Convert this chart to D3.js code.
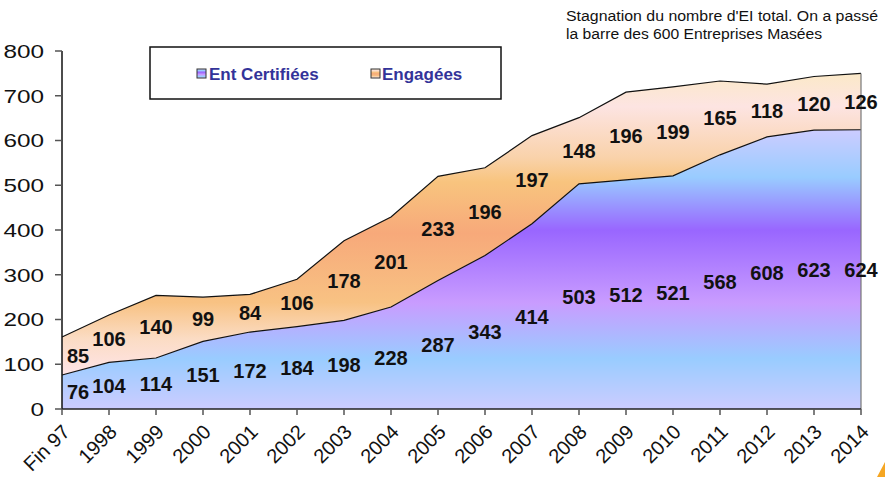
<!DOCTYPE html>
<html>
<head>
<meta charset="utf-8">
<script src="https://cdn.jsdelivr.net/npm/d3@7/dist/d3.min.js"></script>
<style>
  html, body { margin: 0; padding: 0; background: #fff; }
  svg { display: block; font-family: "Liberation Sans", Arial, sans-serif; }
</style>
</head>
<body>
<svg id="chart" width="885" height="477"></svg>
<script>
const categories = ["Fin 97","1998","1999","2000","2001","2002","2003","2004","2005","2006","2007","2008","2009","2010","2011","2012","2013","2014"];
const certifiees = [76,104,114,151,172,184,198,228,287,343,414,503,512,521,568,608,623,624];
const engagees   = [85,106,140,99,84,106,178,201,233,196,197,148,196,199,165,118,120,126];
const yTicks = [0,100,200,300,400,500,600,700,800];
const seriesNames = ["Ent Certifiées","Engagées"];
const noteLines = ["Stagnation du nombre d'EI total. On a passé","la barre des 600 Entreprises Masées"];

const svg = d3.select("#chart");
const x = d3.scalePoint().domain(categories).range([62, 861]);
const y = d3.scaleLinear().domain([0, 800]).range([409, 51]);
const AX = 1.28; // horizontal stretch of y-axis texts in the reference

const defs = svg.append("defs");
function grad(id, stops) {
  const g = defs.append("linearGradient").attr("id", id)
    .attr("x1", 0).attr("y1", 0).attr("x2", 0).attr("y2", 1);
  stops.forEach(([o, c]) => g.append("stop").attr("offset", o).attr("stop-color", c));
}
grad("gBlue", [[0,"#ccccff"],[0.17,"#99ccff"],[0.36,"#9966ff"],[0.62,"#c99cff"],[0.82,"#99ccff"],[1,"#ccccff"]]);
grad("gOrange", [[0,"#fbe9c8"],[0.11,"#fde4e2"],[0.28,"#f9d2aa"],[0.36,"#f8c47e"],[0.53,"#f7a97a"],[0.76,"#f8c283"],[0.88,"#fbdcc4"],[1,"#ffe4e8"]]);

const data = categories.map((c, i) => ({ cat: c, cert: certifiees[i], eng: engagees[i] }));
const stack = d3.stack().keys(["cert", "eng"])(data);

const area = d3.area()
  .x(d => x(d.data.cat))
  .y0(d => y(d[0]))
  .y1(d => y(d[1]));
const topLine = d3.line().x(d => x(d.data.cat)).y(d => y(d[1]));

svg.append("path").datum(stack[0]).attr("d", area).attr("fill", "url(#gBlue)");
svg.append("path").datum(stack[1]).attr("d", area).attr("fill", "url(#gOrange)");
svg.append("path").datum(stack[0]).attr("d", topLine).attr("fill", "none").attr("stroke", "#111").attr("stroke-width", 1.2);
svg.append("path").datum(stack[1]).attr("d", topLine).attr("fill", "none").attr("stroke", "#111").attr("stroke-width", 1.2);
const last = categories.length - 1;
svg.append("line")
  .attr("x1", x(categories[last])).attr("x2", x(categories[last]))
  .attr("y1", y(stack[1][last][1])).attr("y2", y(0))
  .attr("stroke", "#777").attr("stroke-width", 1.2);

// axes
const yAxis = svg.append("g");
yAxis.append("line").attr("x1", 62).attr("x2", 62).attr("y1", y(800)).attr("y2", y(0)).attr("stroke", "#111").attr("stroke-width", 1.5);
yTicks.forEach(t => {
  yAxis.append("line").attr("x1", 55).attr("x2", 62).attr("y1", y(t)).attr("y2", y(t)).attr("stroke", "#555").attr("stroke-width", 1.5);
  yAxis.append("text")
    .attr("transform", `translate(44,${y(t)}) scale(${AX},1)`)
    .attr("text-anchor", "end").attr("dy", "0.36em")
    .attr("font-size", 19).attr("fill", "#111").text(t);
});

const xAxis = svg.append("g");
xAxis.append("line").attr("x1", 62).attr("x2", 861).attr("y1", y(0)).attr("y2", y(0)).attr("stroke", "#222").attr("stroke-width", 1.5);
categories.forEach(c => {
  xAxis.append("line").attr("x1", x(c)).attr("x2", x(c)).attr("y1", y(0)).attr("y2", y(0) + 6).attr("stroke", "#555").attr("stroke-width", 1.5);
  xAxis.append("text")
    .attr("transform", `translate(${x(c) + 4},${y(0) + 19}) rotate(-45)`)
    .attr("text-anchor", "end").attr("dy", "0.36em")
    .attr("font-size", 20).attr("fill", "#111").text(c);
});

// data labels
const labels = svg.append("g").attr("font-size", 20).attr("font-weight", "bold").attr("fill", "#111").attr("text-anchor", "middle");
stack.forEach(s => {
  s.forEach((d, i) => {
    const lx = x(d.data.cat) + (i === 0 ? 16 : 0);
    labels.append("text")
      .attr("x", lx).attr("y", y((d[0] + d[1]) / 2)).attr("dy", "0.36em")
      .text(d[1] - d[0]);
  });
});

// legend
const lg = svg.append("g");
lg.append("rect").attr("x", 150).attr("y", 47).attr("width", 351).attr("height", 52)
  .attr("fill", "#fff").attr("stroke", "#111").attr("stroke-width", 1.5);
const legendItems = [
  { name: seriesNames[0], fill: "url(#gBlue)", sx: 197, tx: 209 },
  { name: seriesNames[1], fill: "url(#gOrange)", sx: 371, tx: 382 }
];
legendItems.forEach(it => {
  lg.append("rect").attr("x", it.sx).attr("y", 69).attr("width", 9).attr("height", 9)
    .attr("fill", it.fill).attr("stroke", "#333").attr("stroke-width", 1);
  lg.append("text").attr("x", it.tx).attr("y", 80)
    .attr("font-size", 17).attr("font-weight", "bold").attr("fill", "#333399").text(it.name);
});

// note text
svg.append("text").attr("x", 566).attr("y", 21).attr("font-size", 14).attr("fill", "#111")
  .attr("textLength", 312).attr("lengthAdjust", "spacingAndGlyphs").text(noteLines[0]);
svg.append("text").attr("x", 566).attr("y", 39).attr("font-size", 14).attr("fill", "#111")
  .attr("textLength", 256).attr("lengthAdjust", "spacingAndGlyphs").text(noteLines[1]);

svg.append("path").attr("d", "M877,477 L885,462 L885,477 Z").attr("fill", "#f5a623");
</script>
</body>
</html>
